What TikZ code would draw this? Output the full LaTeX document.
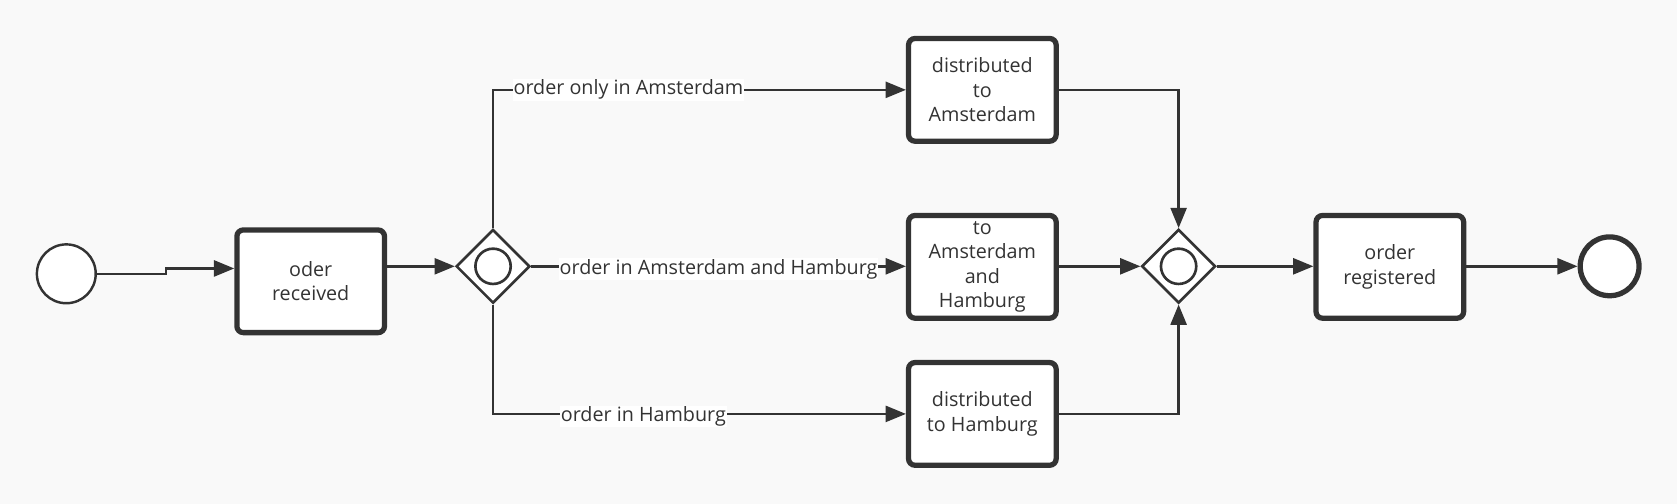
\documentclass[tikz,border=0pt]{standalone}
\usepackage{fontspec}
\setmainfont{Open Sans}
\usetikzlibrary{shapes.geometric,arrows.meta}
\definecolor{ink}{HTML}{333333}
\definecolor{paper}{HTML}{F9F9F9}
\tikzset{
  task/.style={draw=ink,fill=white,line width=2.8pt,rounded corners=1.2mm,
    minimum width=2.76cm,minimum height=1.92cm,align=center,text=ink,
    font=\fontsize{10.5}{12.9}\selectfont,inner sep=1pt},
  gate/.style={diamond,draw=ink,fill=white,line width=1.4pt,aspect=1,
    minimum size=1.38cm,inner sep=0pt},
  gatering/.style={circle,draw=ink,line width=1.4pt,minimum size=0.66cm,inner sep=0pt},
  event/.style={circle,draw=ink,fill=white,minimum size=1.1cm,inner sep=0pt},
  flow/.style={draw=ink,line width=1.3pt,-{Triangle[length=3.8mm,width=3mm]}},
  lbl/.style={fill=white,inner sep=0.5pt,text=ink,font=\fontsize{10.5}{12.9}\selectfont}
}
\begin{document}
\begin{tikzpicture}[x=0.2mm,y=-0.2mm]
        %background and bounding box
        \fill[paper] (0,0) rectangle (1568,471);
        \useasboundingbox (0,0) rectangle (1568,471);

        %events and tasks
        \node[event,line width=1.3pt] (start) at (62,256) {};
        \node[task] (received) at (290.5,263) {oder\\received};
        \node[gate] (split) at (461,249) {};
        \node[gatering] (splitring) at (461,249) {};
        \node[task] (toams) at (918.5,84) {distributed\\to\\Amsterdam};
        \node[task] (toboth) at (918.5,249.5) {to\\Amsterdam\\and\\Hamburg};
        \node[task] (toham) at (918.5,387) {distributed\\to Hamburg};
        \node[gate] (join) at (1102,249) {};
        \node[gatering] (joinring) at (1102,249) {};
        \node[task] (registered) at (1299.5,249.5) {order\\registered};
        \node[event,line width=2.8pt] (finish) at (1505,249) {};

        %flows
        \coordinate (jog) at (155,251);
        \draw[flow] (start.east) -| (jog) -- (jog -| received.west);
        \draw[flow] (split.west -| received.east) -- (split.west);
        \draw[flow] (split.north) |- (toams.west)
        node[lbl,pos=0.664] {order only in Amsterdam};
        \draw[flow] (split.east) -- (split.east -| toboth.west)
        node[lbl,midway,yshift=-0.5mm] {order in Amsterdam and Hamburg};
        \draw[flow] (split.south) |- (toham.west)
        node[lbl,pos=0.682,yshift=-0.5mm] {order in Hamburg};
        \draw[flow] (toams.east) -| (join.north);
        \draw[flow] (join.west -| toboth.east) -- (join.west);
        \draw[flow] (toham.east) -| (join.south);
        \draw[flow] (join.east) -- (join.east -| registered.west);
        \draw[flow] (finish.west -| registered.east) -- (finish.west);
\end{tikzpicture}
\end{document}
